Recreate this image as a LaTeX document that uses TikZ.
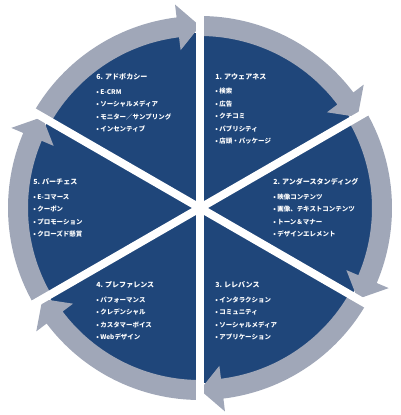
\documentclass[tikz,border=0pt]{standalone}
\usepackage{fontspec}
\newfontfamily\jpfont{Noto Sans CJK JP}
\usetikzlibrary{positioning}
\definecolor{wheelblue}{RGB}{31,70,122}
\definecolor{ringgray}{RGB}{160,167,184}
\newcommand{\hd}[1]{{\fontsize{5}{8.9}\selectfont #1}\\[1.6pt]}

\begin{document}
\begin{tikzpicture}[scale=0.025,every node/.style={font=\jpfont\bfseries\fontsize{4.6}{8.9}\selectfont,text=white,align=left,anchor=north west,inner sep=0pt},
  spoke/.style={white,line width=5.7pt}]
\useasboundingbox (-200,-207) rectangle (200,208);
\fill[wheelblue] (0,0) circle (175);
% ring arrows, clockwise
\foreach \s in {90,30,-30,-90,-150,-210}{
  \pgfmathsetmacro\e{\s-60}
  \pgfmathsetmacro\b{\s-53}
  \fill[ringgray] (\s:192) arc[start angle=\s,end angle=\b,radius=192] -- (\b:205) -- (\e:182) -- (\b:159) -- (\b:172) arc[start angle=\b,end angle=\s,radius=172] -- cycle;
}
\foreach \a in {30,90,...,330} \draw[spoke] (0,0) -- (\a:212);
\node (s1) at (15,135) {\hd{1. アウェアネス}• 検索\\• 広告\\• クチコミ\\• パブリシティ\\• 店頭・パッケージ};
\node (s2) at (73,30) {\hd{2. アンダースタンディング}• 映像コンテンツ\\• 画像、テキストコンテンツ\\• トーン＆マナー\\• デザインエレメント};
\node (s3) at (15,-73) {\hd{3. レレバンス}• インタラクション\\• コミュニティ\\• ソーシャルメディア\\• アプリケーション};
\node (s4) at (-104,-73) {\hd{4. プレファレンス}• パフォーマンス\\• クレデンシャル\\• カスタマーボイス\\• Webデザイン};
\node (s5) at (-167,30) {\hd{5. パーチェス}• E-コマース\\• クーポン\\• プロモーション\\• クローズド懸賞};
\node (s6) at (-104,135) {\hd{6. アドボカシー}• E-CRM\\• ソーシャルメディア\\• モニター／サンプリング\\• インセンティブ};
\end{tikzpicture}
\end{document}
